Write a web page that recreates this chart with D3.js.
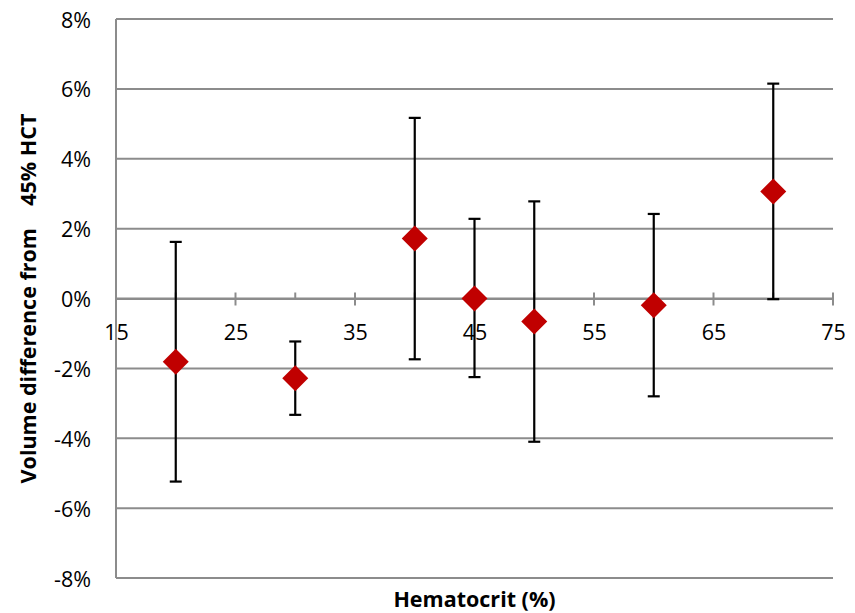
<!DOCTYPE html>
<html><head><meta charset="utf-8">
<script src="https://cdn.jsdelivr.net/npm/d3@7"></script>
<style>body{margin:0;background:#fff}svg{display:block}</style>
</head><body>
<script>
const hct = [20, 30, 40, 45, 50, 60, 70];
const diff = [-0.0181, -0.0228, 0.0172, 0.0000, -0.0066, -0.0019, 0.0306];
const upper = [0.0162, -0.0123, 0.0517, 0.0228, 0.0278, 0.0242, 0.0615];
const lower = [-0.0524, -0.0333, -0.0174, -0.0225, -0.0410, -0.0280, -0.0002];
const xTicks = [15, 25, 35, 45, 55, 65, 75];
const xMinor = [20, 30, 40, 50, 60, 70];
const yTicks = [-0.08, -0.06, -0.04, -0.02, 0, 0.02, 0.04, 0.06, 0.08];

const W = 855, H = 613;
const m = {left:116, right:22, top:19, bottom:35};
const svg = d3.select("body").append("svg").attr("width", W).attr("height", H);
const x = d3.scaleLinear().domain([15, 75]).range([m.left, W - m.right]);
const y = d3.scaleLinear().domain([-0.08, 0.08]).range([H - m.bottom, m.top]);
const font = "'Open Sans', sans-serif";
const grid = "#8c8c8c";
const fs = 21.5;
const pct = d => d3.format(".0%")(d).replace("\u2212", "-");

// gridlines
svg.append("g").selectAll("line").data(yTicks).join("line")
  .attr("x1", x(15)).attr("x2", x(75))
  .attr("y1", d => y(d)).attr("y2", d => y(d))
  .attr("stroke", grid).attr("stroke-width", 2);
// y axis line
svg.append("line").attr("x1", x(15)).attr("x2", x(15)).attr("y1", y(0.08)).attr("y2", y(-0.08))
  .attr("stroke", grid).attr("stroke-width", 2);

// y tick labels
svg.append("g").selectAll("text").data(yTicks).join("text")
  .attr("x", 91).attr("y", d => y(d) + 1).attr("dy", "0.35em")
  .attr("text-anchor", "end").attr("font-family", font).attr("font-size", fs).attr("fill", "#000")
  .text(pct);

// x axis at y=0 with ticks
const xAxis = d3.axisBottom(x).tickValues(xTicks).tickSize(0).tickFormat(d3.format("d"));
const gx = svg.append("g").attr("transform", `translate(0,${y(0)})`).call(xAxis);
gx.select(".domain").attr("stroke", grid).attr("stroke-width", 2);
gx.selectAll("text").attr("font-family", font).attr("font-size", fs).attr("fill", "#000").attr("dy", null).attr("y", 41);
svg.append("g").selectAll("line").data(xTicks.slice(1)).join("line")
  .attr("x1", d => x(d)).attr("x2", d => x(d)).attr("y1", y(0) - 6).attr("y2", y(0) + 7)
  .attr("stroke", grid).attr("stroke-width", 2);
svg.append("g").selectAll("line").data(xMinor).join("line")
  .attr("x1", d => x(d)).attr("x2", d => x(d)).attr("y1", y(0) - 6).attr("y2", y(0))
  .attr("stroke", grid).attr("stroke-width", 2);

// error bars
const eb = svg.append("g").attr("stroke", "#000").attr("stroke-width", 2.2);
hct.forEach((h, i) => {
  eb.append("line").attr("x1", x(h)).attr("x2", x(h)).attr("y1", y(upper[i])).attr("y2", y(lower[i]));
  [upper[i], lower[i]].forEach(v => eb.append("line")
    .attr("x1", x(h) - 6).attr("x2", x(h) + 6).attr("y1", y(v)).attr("y2", y(v)));
});

// diamonds
svg.append("g").selectAll("path").data(hct).join("path")
  .attr("transform", (d, i) => `translate(${x(d)},${y(diff[i])})`)
  .attr("d", "M0,-13L13,0L0,13L-13,0Z").attr("fill", "#c00000");

// axis titles
svg.append("text").attr("x", (x(15) + x(75)) / 2).attr("y", 607)
  .attr("text-anchor", "middle").attr("font-family", font).attr("font-weight", "bold").attr("font-size", fs)
  .text("Hematocrit (%)");
svg.append("text").attr("transform", `translate(36,${y(0)}) rotate(-90)`)
  .attr("text-anchor", "middle").attr("font-family", font).attr("font-weight", "bold").attr("font-size", fs)
  .attr("xml:space", "preserve").style("white-space", "pre")
  .text("Volume difference from    45% HCT");
</script>
</body></html>
